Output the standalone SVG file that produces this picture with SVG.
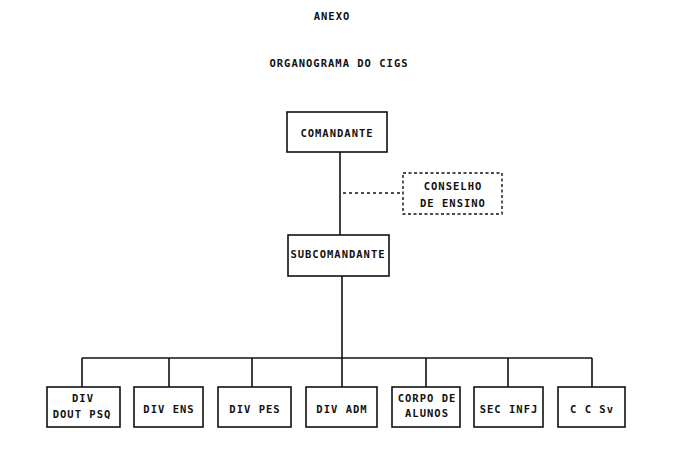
<svg xmlns="http://www.w3.org/2000/svg" width="675" height="453" viewBox="0 0 675 453">
<style>
  .box{fill:#fff;stroke:#111;stroke-width:1.6}
  .dbox{fill:#fff;stroke:#111;stroke-width:1.4;stroke-dasharray:3,2.5}
  .ln{stroke:#111;stroke-width:1.6;fill:none}
  .dl{stroke:#111;stroke-width:1.4;stroke-dasharray:3,3;fill:none}
  text{font-family:"DejaVu Sans Mono","Liberation Mono",monospace;font-weight:bold;font-size:10.5px;letter-spacing:1px;fill:#111;text-anchor:middle}
</style>
<rect width="675" height="453" fill="#fff"/>
<text x="332" y="20">ANEXO</text>
<text x="339" y="67">ORGANOGRAMA DO CIGS</text>
<g id="connectors">
  <path class="ln" d="M340 152 V235"/>
  <path class="ln" d="M342 276 V358"/>
  <path class="dl" d="M343 193 H403"/>
  <path class="ln" d="M82 358 H592"/>
  <path class="ln" d="M82 358 V387 M169 358 V387 M252 358 V387 M342 358 V387 M426 358 V387 M508 358 V387 M592 358 V387"/>
</g>
<g id="comandante">
  <rect class="box" x="287" y="112" width="100" height="40"/>
  <text x="337" y="137">COMANDANTE</text>
</g>
<g id="conselho">
  <rect class="dbox" x="403" y="173" width="99" height="41"/>
  <text x="453" y="190">CONSELHO</text>
  <text x="453" y="207">DE ENSINO</text>
</g>
<g id="subcomandante">
  <rect class="box" x="288" y="235" width="101" height="41"/>
  <text x="338" y="258">SUBCOMANDANTE</text>
</g>
<g id="div-dout-psq">
  <rect class="box" x="47" y="387" width="73" height="40"/>
  <text x="83" y="402">DIV</text>
  <text x="82" y="418">DOUT PSQ</text>
</g>
<g id="div-ens">
  <rect class="box" x="134" y="387" width="69" height="40"/>
  <text x="169" y="413">DIV ENS</text>
</g>
<g id="div-pes">
  <rect class="box" x="218" y="387" width="73" height="40"/>
  <text x="255" y="413">DIV PES</text>
</g>
<g id="div-adm">
  <rect class="box" x="306" y="387" width="71" height="40"/>
  <text x="342" y="413">DIV ADM</text>
</g>
<g id="corpo-de-alunos">
  <rect class="box" x="392" y="387" width="68" height="40"/>
  <text x="427" y="402">CORPO DE</text>
  <text x="427" y="417">ALUNOS</text>
</g>
<g id="sec-infj">
  <rect class="box" x="474" y="387" width="69" height="40"/>
  <text x="509" y="413">SEC INFJ</text>
</g>
<g id="c-c-sv">
  <rect class="box" x="558" y="387" width="67" height="40"/>
  <text x="592" y="413">C C Sv</text>
</g>
</svg>
